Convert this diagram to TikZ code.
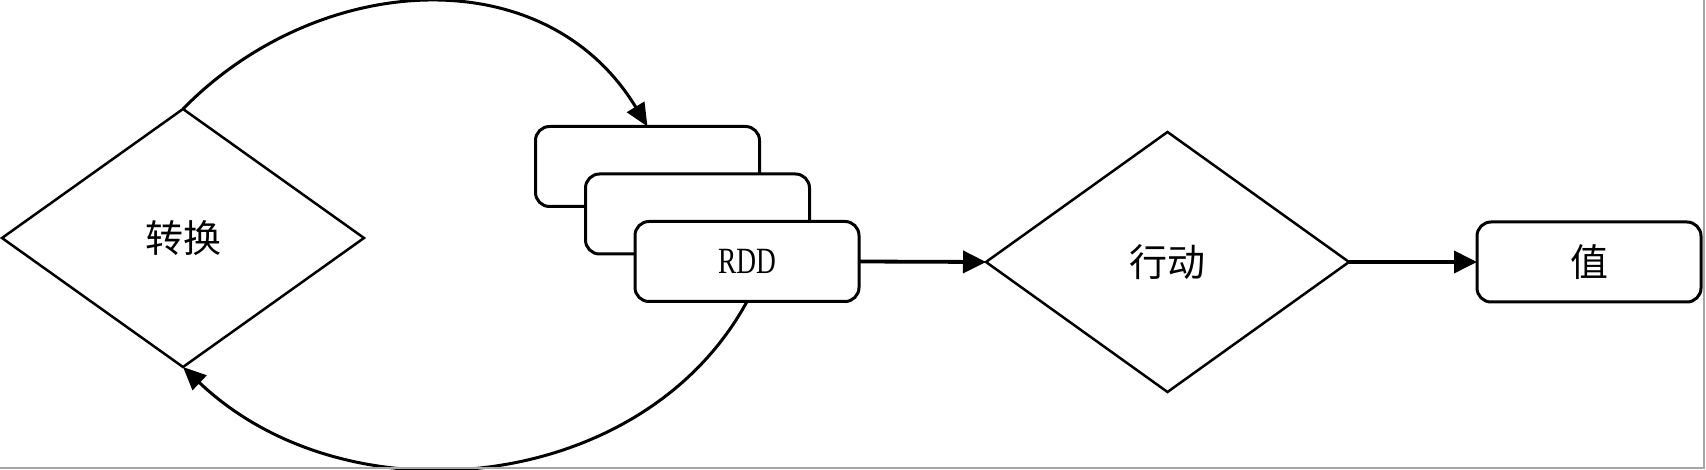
\documentclass[tikz,border=0pt]{standalone}
\usepackage{fontspec}
\setmainfont{Liberation Serif}
\newfontfamily\cjk{Noto Sans CJK SC}
\usetikzlibrary{shapes.geometric,arrows.meta}
\begin{document}
\begin{tikzpicture}[x=1pt,y=-1pt,
  dia/.style={draw, shape=diamond, line width=2.5pt, inner sep=0pt, outer sep=0pt,
    font=\cjk\fontsize{38}{40}\selectfont},
  rbox/.style={draw, fill=white, rounded corners=14pt, line width=3pt,
    minimum width=224pt, minimum height=80pt, inner sep=0pt, outer sep=0pt},
  flow/.style={line width=3.8pt, -{Triangle[length=23pt,width=22pt]}},
  loopline/.style={line width=3pt, -{Triangle[length=23pt,width=20pt]}},
  frameline/.style={draw=gray!70, line width=2pt}]
\useasboundingbox (0,0) rectangle (1706,470);
% nodes
\node[dia, minimum width=362pt, minimum height=258pt] (d1) at (183,238) {\raisebox{2pt}{转换}};
\node[rbox] (b1) at (647.5,166.5) {};
\node[rbox] (b2) at (697.5,214) {};
\node[rbox, font=\fontsize{37}{40}\selectfont] (b3) at (747,261.5) {\scalebox{0.74}[1]{RDD}};
\node[dia, minimum width=363pt, minimum height=260pt] (d2) at (1167.5,262) {\raisebox{2pt}{行动}};
\node[rbox, font=\cjk\fontsize{38}{40}\selectfont] (b4) at (1589,262) {\raisebox{2pt}{值}};
% connectors
\draw[loopline] (d1.north) .. controls +(134,-137) and +(-103.5,-170.5) .. (b1.north);
\draw[loopline] (b3.south) .. controls +(-104,191.5) and +(165,157) .. (d1.south);
\draw[flow] (b3.east) -- (d2.west);
\draw[flow] (d2.east) -- (b4.west);
% frame
\draw[frameline] (0,468) -- (1704,468) -- (1704,0);
\end{tikzpicture}
\end{document}
